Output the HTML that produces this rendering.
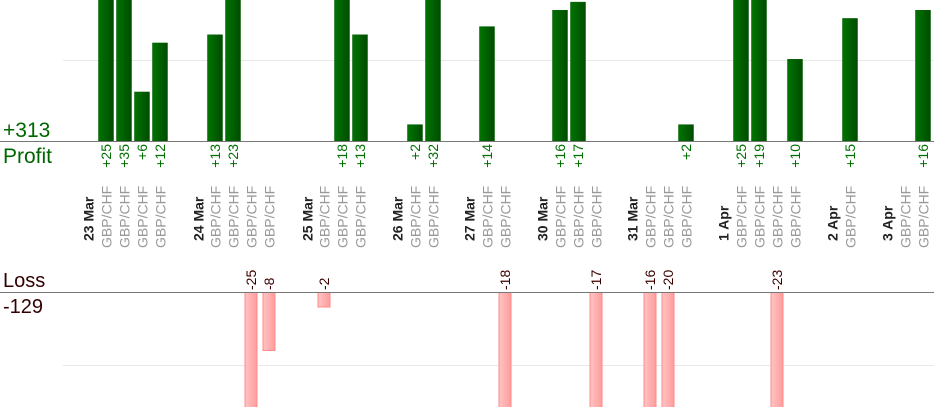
<!DOCTYPE html>
<html><head><meta charset="utf-8"><style>
html,body{margin:0;padding:0;background:#fff;width:934px;height:420px;overflow:hidden}
svg{position:absolute;left:0;top:0;display:block;font-family:"Liberation Sans",Arial,sans-serif}
</style></head><body>
<svg id="s" width="934" height="420" xmlns="http://www.w3.org/2000/svg">
<defs>
<linearGradient id="g" x1="0" x2="1" y1="0" y2="0"><stop offset="0" stop-color="#007400"/><stop offset="1" stop-color="#004c00"/></linearGradient>
<linearGradient id="r" x1="0" x2="1" y1="0" y2="0"><stop offset="0" stop-color="#ffc4c4"/><stop offset="1" stop-color="#ff9c9c"/></linearGradient>
<clipPath id="ct"><rect x="0" y="0" width="934" height="141"/></clipPath>
<clipPath id="cb"><rect x="0" y="292" width="934" height="115"/></clipPath>
</defs>
<line x1="63" x2="934" y1="60.5" y2="60.5" stroke="#e8e8e8"/>
<line x1="63" x2="934" y1="365.5" y2="365.5" stroke="#e8e8e8"/>
<g id="top" clip-path="url(#ct)"></g>
<g id="bot" clip-path="url(#cb)"></g>
<line x1="0" x2="934" y1="141.5" y2="141.5" stroke="#777"/>
<line x1="0" x2="934" y1="292.5" y2="292.5" stroke="#777"/>
<text x="3" y="137" font-size="21" fill="#006600">+313</text>
<text x="3" y="163" font-size="21" fill="#006600">Profit</text>
<text x="3" y="287" font-size="20" fill="#330000">Loss</text>
<text x="3" y="313" font-size="20" fill="#330000">-129</text>
<g id="lab"></g>
</svg>
<script>
var NS="http://www.w3.org/2000/svg";
function el(p,t,a,txt){var e=document.createElementNS(NS,t);for(var k in a)e.setAttribute(k,a[k]);if(txt!=null)e.textContent=txt;document.getElementById(p).appendChild(e);}
var dates=[[88,"23 Mar"],[198,"24 Mar"],[307,"25 Mar"],[397,"26 Mar"],[469,"27 Mar"],[542,"30 Mar"],[632,"31 Mar"],[723,"1 Apr"],[832,"2 Apr"],[887,"3 Apr"]];
var gbp=[106,124,142,160,215,233,251,269,324,342,360,415,433,487,505,560,578,596,650,668,686,741,759,777,795,850,905,923];
dates.forEach(function(d){el("lab","text",{transform:"translate("+(d[0]+5.5)+",241) rotate(-90)","font-size":"14","font-weight":"bold",fill:"#222"},d[1]);});
gbp.forEach(function(x){el("lab","text",{transform:"translate("+(x+5.5)+",248) rotate(-90)","font-size":"14",fill:"#999"},"GBP/CHF");});
var gains=[[106,25],[124,35],[142,6],[160,12],[215,13],[233,23],[342,18],[360,13],[415,2],[433,32],[487,14],[560,16],[578,17],[686,2],[741,25],[759,19],[795,10],[850,15],[923,16]];
gains.forEach(function(g){var h=g[1]*8.17;el("top","rect",{x:g[0]-7.5,y:141-h,width:15,height:h,fill:"url(#g)",stroke:"#005a00","stroke-width":"0.5"});
el("lab","text",{transform:"translate("+(g[0]+5)+",144) rotate(-90)","font-size":"14",fill:"#007000","text-anchor":"end"},"+"+g[1]);});
var loss=[[251,25],[269,8],[324,2],[505,18],[596,17],[650,16],[668,20],[777,23]];
loss.forEach(function(l){var h=l[1]*7.25;el("bot","rect",{x:l[0]-6,y:292.5,width:12,height:h,fill:"url(#r)",stroke:"#ff8a8a","stroke-width":"1"});
el("lab","text",{transform:"translate("+(l[0]+5)+",290) rotate(-90)","font-size":"14",fill:"#3a0000"},"-"+l[1]);});
</script>
</body></html>
